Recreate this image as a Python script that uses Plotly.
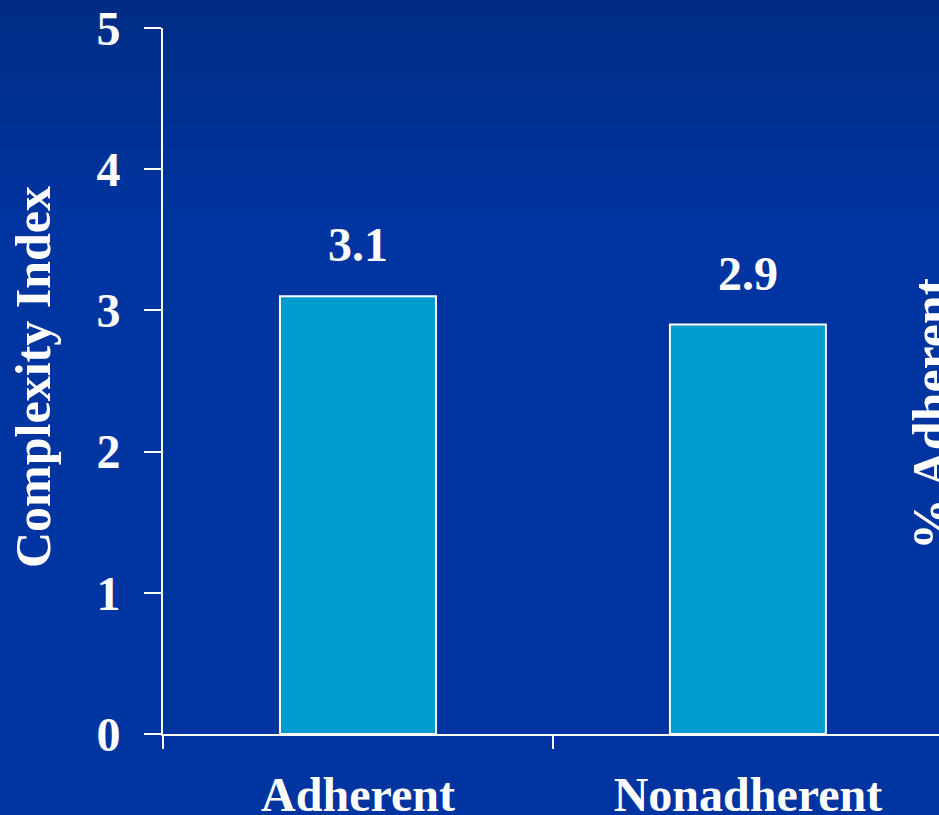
import plotly.graph_objects as go

categories = ["Adherent", "Nonadherent"]
complexity_index = [3.1, 2.9]
value_labels = ["3.1", "2.9"]
y_tick_values = [0, 1, 2, 3, 4, 5]
y_tick_labels = ["0", "1", "2", "3", "4", "5"]

FONT = "Liberation Serif"
W, H = 939, 815
ML, MR, MT, MB = 163, 0, 28, 81

fig = go.Figure()
fig.add_trace(go.Bar(
    x=categories,
    y=complexity_index,
    width=0.4,
    marker=dict(color="#009BCE", line=dict(color="white", width=2)),
    showlegend=False,
))

for cat, val, lab in zip(categories, complexity_index, value_labels):
    fig.add_annotation(x=cat, y=val, text=lab, showarrow=False,
                       xanchor="center", yanchor="bottom", yshift=23,
                       font=dict(family=FONT, size=48, color="white", weight="bold"))

# subtle vertical gradient in the background (top darker)
top = (0, 44, 133)
bot = (0, 52, 160)
n = 30
band_px = 220 / n
pw = W - ML - MR
ph = H - MT - MB
for i in range(n):
    t = i / (n - 1)
    c = tuple(round(top[k] + (bot[k] - top[k]) * t) for k in range(3))
    y0_px = i * band_px
    y1_px = (i + 1) * band_px + 1
    p0 = (H - MB - y0_px) / ph
    p1 = (H - MB - y1_px) / ph
    fig.add_shape(type="rect", xref="paper", yref="paper",
                  x0=-ML / pw - 0.01, x1=1.01, y0=p1, y1=p0,
                  fillcolor="rgb(%d,%d,%d)" % c, line=dict(width=0), layer="below")

fig.add_annotation(text="Complexity Index", xref="paper", yref="paper",
                   x=(33 - ML) / pw, y=(H - MB - 377) / ph, textangle=-90,
                   showarrow=False, xanchor="center", yanchor="middle",
                   font=dict(family=FONT, size=50, color="white", weight="bold"))
fig.add_annotation(text="% Adherent", xref="paper", yref="paper",
                   x=(931 - ML) / pw, y=(H - MB - 414) / ph, textangle=-90,
                   showarrow=False, xanchor="center", yanchor="middle",
                   font=dict(family=FONT, size=52, color="white", weight="bold"))

fig.update_layout(
    width=W, height=H,
    margin=dict(l=ML, r=MR, t=MT, b=MB, pad=0, autoexpand=False),
    paper_bgcolor="rgb(0,52,160)",
    plot_bgcolor="rgba(0,0,0,0)",
    font=dict(family=FONT, color="white"),
    bargap=0.6,
)
fig.update_xaxes(
    type="category",
    range=[-0.5, 1.49],
    automargin=False,
    showline=True, linecolor="white", linewidth=2,
    ticks="outside", tickson="boundaries", ticklen=13, tickwidth=2, tickcolor="white",
    tickfont=dict(family=FONT, size=48, color="white", weight="bold"),
    ticklabelstandoff=17,
    showgrid=False, zeroline=False,
)
fig.update_yaxes(
    range=[0, 5],
    automargin=False,
    tickvals=y_tick_values, ticktext=y_tick_labels,
    showline=True, linecolor="white", linewidth=2,
    ticks="outside", ticklen=17, tickwidth=2, tickcolor="white",
    tickfont=dict(family=FONT, size=48, color="white", weight="bold"),
    ticklabelstandoff=14,
    showgrid=False, zeroline=False,
)

fig.write_html("out.html")
